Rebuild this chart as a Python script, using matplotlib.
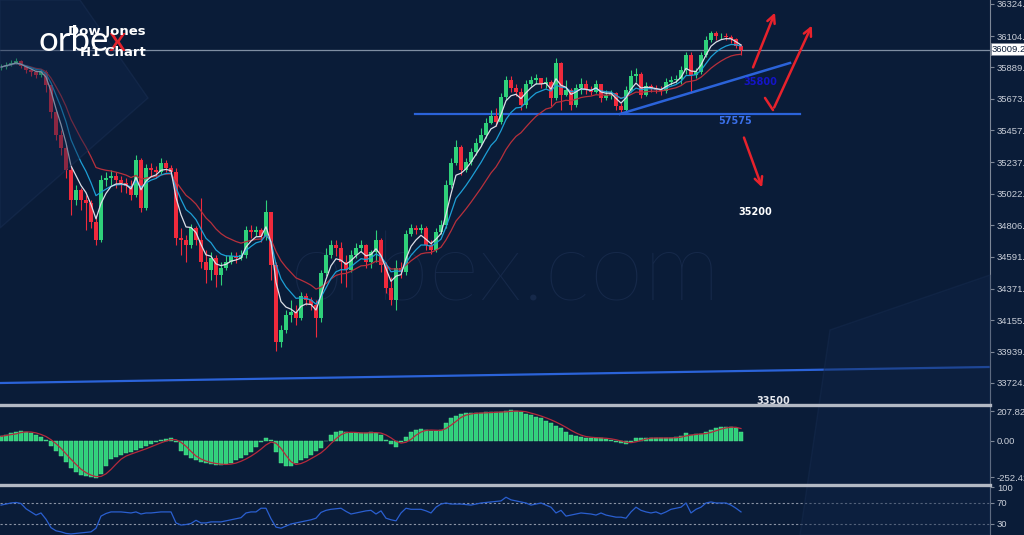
import matplotlib.pyplot as plt
import numpy as np
import pandas as pd
from matplotlib.lines import Line2D
from matplotlib.patches import Polygon

# Dow Jones H1 candles
first_open = 35885
closes = [35892, 35906, 35919, 35933, 35899, 35871, 35857, 35837, 35857, 35768,
          35583, 35425, 35335, 35184, 34978, 35047, 34978, 34957, 34827, 34703,
          35115, 35129, 35143, 35115, 35095, 35074, 35012, 35253, 34923, 35198,
          35184, 35170, 35232, 35198, 35170, 34717, 34703, 34669, 34786, 34703,
          34552, 34497, 34580, 34463, 34511, 34552, 34593, 34580, 34600, 34772,
          34758, 34772, 34731, 34896, 34531, 34002, 34085, 34188, 34209, 34167,
          34318, 34291, 34257, 34167, 34476, 34600, 34669, 34648, 34552, 34497,
          34600, 34648, 34669, 34552, 34621, 34703, 34531, 34373, 34291, 34511,
          34483, 34744, 34786, 34772, 34786, 34669, 34635, 34758, 34806, 35081,
          35232, 35342, 35184, 35239, 35308, 35370, 35425, 35507, 35555, 35514,
          35686, 35802, 35747, 35720, 35631, 35775, 35802, 35816, 35775, 35789,
          35679, 35919, 35699, 35734, 35631, 35747, 35775, 35734, 35720, 35775,
          35679, 35699, 35713, 35624, 35596, 35734, 35830, 35844, 35699, 35761,
          35747, 35734, 35727, 35789, 35802, 35809, 35871, 35974, 35837, 35857,
          35974, 36077, 36125, 36105, 36105, 36098, 36084, 36036, 36009]
highs = [35912, 35926, 35940, 35954, 35940, 35906, 35885, 35871, 35878, 35871,
         35699, 35596, 35459, 35356, 35218, 35081, 35060, 35012, 34978, 34875,
         35150, 35170, 35184, 35170, 35143, 35129, 35115, 35287, 35267, 35225,
         35232, 35212, 35267, 35253, 35218, 35198, 34786, 34738, 34813, 34799,
         34992, 34635, 34621, 34600, 34552, 34600, 34621, 34621, 34635, 34799,
         34806, 34799, 34786, 34978, 34896, 34552, 34119, 34222, 34291, 34257,
         34346, 34339, 34312, 34291, 34497, 34648, 34703, 34703, 34689, 34600,
         34635, 34683, 34703, 34676, 34635, 34772, 34717, 34552, 34449, 34566,
         34552, 34772, 34813, 34806, 34813, 34799, 34703, 34786, 34841, 35115,
         35267, 35390, 35356, 35267, 35335, 35404, 35473, 35541, 35596, 35610,
         35713, 35830, 35830, 35775, 35747, 35802, 35830, 35844, 35816, 35823,
         35802, 35954, 35926, 35802, 35747, 35775, 35816, 35802, 35761, 35802,
         35761, 35734, 35734, 35720, 35644, 35761, 35871, 35885, 35857, 35789,
         35775, 35768, 35761, 35816, 35830, 35837, 35899, 35995, 35995, 35885,
         35995, 36105, 36139, 36139, 36125, 36125, 36112, 36091, 36050]
lows = [35871, 35878, 35899, 35912, 35885, 35851, 35830, 35816, 35823, 35720,
        35541, 35390, 35287, 35129, 34875, 34944, 34909, 34772, 34786, 34669,
        34689, 35074, 35081, 35060, 35033, 35026, 34978, 34999, 34896, 34909,
        35143, 35129, 35157, 35170, 35150, 34669, 34600, 34552, 34648, 34669,
        34511, 34408, 34428, 34380, 34394, 34497, 34538, 34545, 34566, 34580,
        34717, 34731, 34689, 34703, 34428, 33947, 33968, 34064, 34140, 34119,
        34154, 34257, 34222, 34037, 34140, 34456, 34580, 34593, 34408, 34380,
        34483, 34580, 34621, 34511, 34511, 34552, 34483, 34339, 34257, 34222,
        34442, 34463, 34731, 34744, 34751, 34635, 34607, 34621, 34744, 34786,
        35060, 35218, 35150, 35170, 35218, 35287, 35349, 35404, 35500, 35486,
        35500, 35665, 35720, 35693, 35596, 35610, 35761, 35775, 35747, 35747,
        35624, 35665, 35596, 35693, 35596, 35617, 35706, 35706, 35699, 35713,
        35651, 35665, 35672, 35596, 35576, 35583, 35720, 35789, 35679, 35693,
        35720, 35713, 35699, 35713, 35768, 35782, 35775, 35844, 35713, 35816,
        35844, 35960, 36063, 36077, 36084, 36077, 36057, 36022, 35974]

# MACD main (histogram) and RSI, one value per candle
macd_values = [32, 45, 56, 64, 69, 62, 54, 40, 26, 4,
               -34, -70, -104, -146, -185, -212, -237, -244, -251, -255,
               -232, -172, -128, -110, -95, -85, -74, -62, -47, -34,
               -19, -5, 8, 15, 20, -5, -66, -95, -121, -135,
               -146, -154, -160, -163, -166, -160, -151, -135, -115, -96,
               -74, -45, -10, 20, 5, -75, -155, -173, -172, -150,
               -130, -115, -95, -72, -46, 2, 45, 60, 68, 60,
               54, 55, 56, 58, 62, 56, 44, 5, -18, -40,
               -5, 28, 62, 75, 83, 76, 69, 70, 78, 128,
               162, 175, 188, 192, 194, 194, 195, 198, 201, 201,
               202, 205, 214, 207, 200, 190, 178, 168, 157, 140,
               123, 105, 87, 65, 40, 32, 27, 24, 21, 21,
               20, 14, 6, -5, -15, -20, -6, 18, 21, 21,
               21, 21, 21, 21, 22, 28, 36, 55, 44, 46,
               50, 64, 78, 90, 97, 98, 97, 88, 62]
rsi_values = [66, 68, 70, 71, 69, 59, 53, 47, 51, 39,
              23, 17, 15, 12, 11, 12, 13, 14, 15, 22,
              45, 50, 53, 53, 53, 52, 51, 53, 49, 51,
              51, 52, 53, 53, 53, 32, 28, 29, 31, 37,
              32, 32, 34, 34, 34, 36, 38, 40, 42, 51,
              53, 53, 60, 60, 40, 24, 22, 26, 30, 32,
              34, 36, 38, 41, 52, 56, 58, 59, 60, 54,
              49, 51, 53, 55, 56, 49, 55, 41, 38, 36,
              51, 60, 58, 58, 58, 55, 51, 62, 68, 70,
              68, 68, 68, 67, 66, 68, 70, 71, 72, 73,
              74, 81, 76, 74, 72, 70, 66, 68, 70, 66,
              62, 51, 56, 45, 47, 49, 51, 50, 49, 47,
              51, 47, 45, 43, 43, 41, 53, 62, 56, 53,
              51, 53, 49, 53, 58, 60, 62, 70, 51, 58,
              62, 70, 72, 70, 70, 70, 66, 60, 53]

price_ticks = [36324.8, 36104.6, 35889.0, 35673.4, 35457.8, 35237.8, 35022.2,
               34806.6, 34591.0, 34371.0, 34155.4, 33939.8, 33724.2]
macd_ticks = [207.826, 0.0, -252.423]
rsi_ticks = [100, 70, 30]
last_price = 36009.2

BG = "#0a1c38"
GRN = "#2fd17a"
RED = "#f02a3c"
GRAY = "#c9ced8"

W, H = 1024, 535
fig = plt.figure(figsize=(W / 100, H / 100), dpi=100)
fig.patch.set_facecolor(BG)


def fpx(x, y):
    return (x / W, 1 - y / H)


# faint background shapes
fig.patches.append(Polygon([fpx(0, 0), fpx(80, 0), fpx(148, 98), fpx(0, 228)],
                           closed=True, transform=fig.transFigure,
                           facecolor="#10254a", alpha=0.45, edgecolor="#1b3156", lw=1, zorder=0))
fig.patches.append(Polygon([fpx(800, 535), fpx(830, 330), fpx(990, 275), fpx(990, 535)],
                           closed=True, transform=fig.transFigure,
                           facecolor="#0f2446", alpha=0.45, edgecolor="#172c50", lw=1, zorder=0))

left, width = 0, 990 / W
ax = fig.add_axes([left, 1 - 404 / H, width, 404 / H])
axm = fig.add_axes([left, 1 - 483 / H, width, 77 / H])
axr = fig.add_axes([left, 0, width, 49 / H])

n = len(closes)
x = np.arange(n)
c = np.array(closes, dtype=float)
o = np.concatenate([[first_open], c[:-1]])
up = c >= o
cols = np.where(up, GRN, RED)

for a in (ax, axm, axr):
    a.set_facecolor("none")
    a.set_xlim(-0.2, 197.8)
    for s in ("left", "top", "bottom"):
        a.spines[s].set_visible(False)
    a.spines["right"].set_color("#7d8797")
    a.yaxis.tick_right()
    a.tick_params(axis="y", colors="#7d8797", labelcolor=GRAY, length=3, pad=2,
                  labelsize=6.8)
    a.set_xticks([])

# --- price panel
ax.set_ylim(33580, 36352)
ax.set_yticks(price_ticks)
ax.set_yticklabels([f"{v:.1f}" for v in price_ticks], family="Liberation Sans")

ax.text(0.51, 0.32, "orbex.com", transform=ax.transAxes, ha="center", va="center",
        fontsize=70, family="Lato", weight="light", color="#16294a", zorder=0)

ax.vlines(x, lows, highs, colors=cols, lw=0.8, zorder=3)
ax.bar(x, np.abs(c - o), bottom=np.minimum(o, c), width=0.62, color=cols, zorder=3)

s = pd.Series(c)
ax.plot(x, s.ewm(span=16).mean(), color="#b8303c", lw=0.9, zorder=4)
ax.plot(x, s.ewm(span=8).mean(), color="#1d9fd6", lw=0.9, zorder=4)
ax.plot(x, s.ewm(span=4).mean(), color="#dcdfe8", lw=0.9, zorder=5)

ax.axhline(last_price, color="#7f8ea3", lw=0.9, zorder=2)
ax.plot([-0.2, 197.8], [33724, 33834], color="#2b63d9", lw=1.6, zorder=2)
ax.plot([82.8, 159.8], [35570, 35570], color="#2b63d9", lw=1.6, zorder=2)
ax.plot([123.8, 157.8], [35570, 35920], color="#2b63d9", lw=1.8, zorder=6)

arrow = dict(arrowstyle="->", color="#e8222c", lw=1.8, mutation_scale=14)
ax.annotate("", xy=(155.0, 36283), xytext=(150.2, 35872), arrowprops=arrow, zorder=7)
ax.annotate("", xy=(152.4, 35048), xytext=(148.4, 35426), arrowprops=arrow, zorder=7)
ax.plot([152.8, 154.4], [35680, 35597], color="#e8222c", lw=1.8, zorder=7,
        solid_capstyle="round")
ax.annotate("", xy=(162.4, 36194), xytext=(154.4, 35597), arrowprops=arrow, zorder=7)

lbl = dict(ha="center", va="center", fontsize=7, weight="bold", zorder=8)
ax.text(151.8, 35789, "35800", color="#1414c8", **lbl)
ax.text(146.8, 35522, "57575", color="#3a70ea", **lbl)
ax.text(150.8, 34897, "35200", color="white", **lbl)
ax.text(154.4, 33600, "33500", color="#e6e8ee", clip_on=False, **lbl)

# --- MACD panel
macd = pd.Series(macd_values, dtype=float)
signal = macd.rolling(4, min_periods=1).mean()
axm.set_ylim(-291, 242.5)
axm.bar(x, macd, width=0.8, color=GRN, edgecolor="#5fe39a", lw=0.3)
axm.plot(x, signal, color="#b52a3c", lw=0.9)
axm.set_yticks(macd_ticks)
axm.set_yticklabels(["207.826", "0.00", "-252.423"], family="Liberation Sans")

# --- RSI panel
axr.set_ylim(9, 102.4)
for lv in (70, 30):
    axr.axhline(lv, color="#8a93a5", lw=0.8, ls=(0, (2, 2)))
axr.plot(x, rsi_values, color="#2a5fd0", lw=0.9)
axr.set_yticks(rsi_ticks)
axr.set_yticklabels([str(v) for v in rsi_ticks], family="Liberation Sans")

# separators
for yy in (405, 484.5):
    fig.add_artist(Line2D([0, 990 / W], [1 - yy / H] * 2, transform=fig.transFigure,
                          color="#b3b9c4", lw=2.4))

# current price box
fig.text(992 / W, 1 - 49 / H, f"{last_price:.1f}", fontsize=6.8, family="Liberation Sans",
         color="#0a1c38", va="center", ha="left",
         bbox=dict(boxstyle="square,pad=0.15", fc="white", ec="#7d8797", lw=0.5))

# logo and title
t_orbe = fig.text(38 / W, 1 - 57 / H, "orbe", fontsize=25, family="Lato",
                  color="white", va="bottom", ha="left", zorder=10)
fig.canvas.draw()
bb = t_orbe.get_window_extent()
fig.text(bb.x1 / W, 1 - 57 / H, "x", fontsize=25, family="Lato",
         color="#e3232c", va="bottom", ha="left", zorder=10)
fig.text(68 / W, 1 - 31 / H, "Dow Jones", fontsize=9.5, weight="bold", color="white",
         va="center", ha="left", zorder=11)
fig.text(80 / W, 1 - 53 / H, "H1 Chart", fontsize=9.5, weight="bold", color="white",
         va="center", ha="left", zorder=11)

fig.savefig("out.png", dpi=100, facecolor=BG)
